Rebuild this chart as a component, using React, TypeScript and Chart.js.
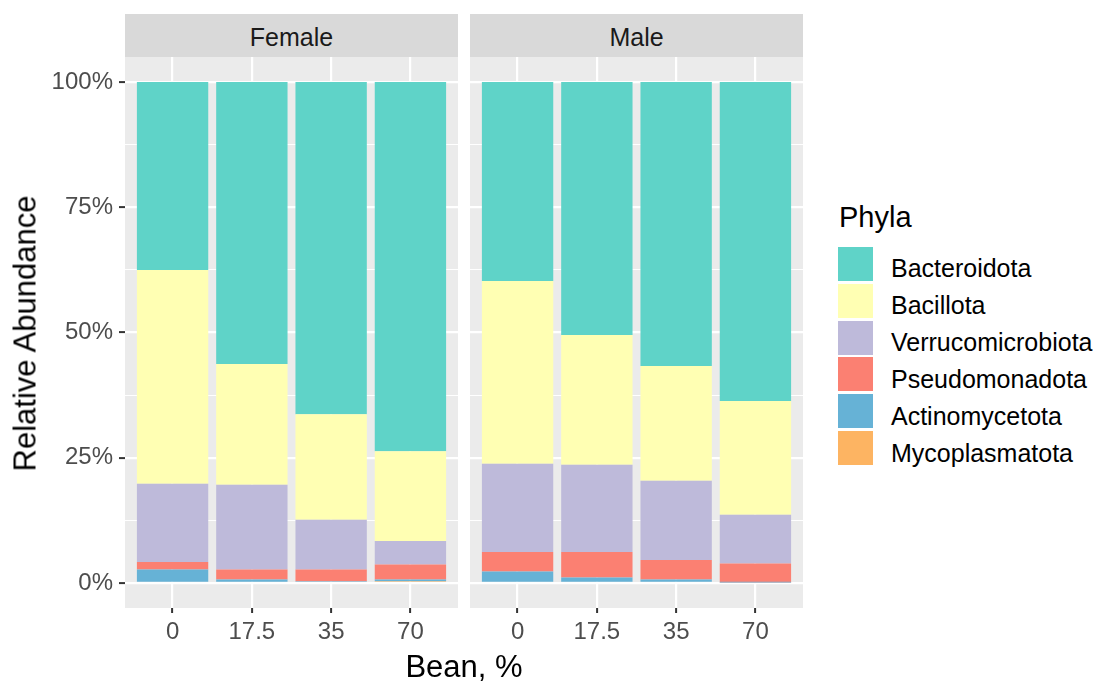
import React, { useEffect, useRef } from "react";
import { Chart, registerables } from "chart.js";

Chart.register(...registerables);

// ---------- data ----------
const beanLevels = ["0", "17.5", "35", "70"];
const facets = ["Female", "Male"];
const phyla = [
  "Mycoplasmatota",
  "Actinomycetota",
  "Pseudomonadota",
  "Verrucomicrobiota",
  "Bacillota",
  "Bacteroidota",
];
const phylaColors = ["#FDB462", "#66B2D6", "#FB8072", "#BEBADA", "#FFFFB3", "#5FD3C8"];
const yMajorTicks = [0, 25, 50, 75, 100];
const yMinorTicks = [12.5, 37.5, 62.5, 87.5];

// Female (% relative abundance) per bean level
const femaleMycoplasmatota = [0, 0, 0, 0.35];
const femaleActinomycetota = [2.7, 0.7, 0.35, 0.35];
const femalePseudomonadota = [1.5, 2.0, 2.35, 3.0];
const femaleVerrucomicrobiota = [15.6, 16.9, 9.9, 4.7];
const femaleBacillota = [42.7, 24.1, 21.1, 17.9];
const femaleBacteroidota = [37.5, 56.3, 66.3, 73.7];

// Male
const maleMycoplasmatota = [0, 0, 0, 0];
const maleActinomycetota = [2.3, 1.1, 0.7, 0.1];
const malePseudomonadota = [3.9, 5.1, 3.9, 3.8];
const maleVerrucomicrobiota = [17.6, 17.4, 15.8, 9.7];
const maleBacillota = [36.5, 25.9, 22.9, 22.7];
const maleBacteroidota = [39.7, 50.5, 56.7, 63.7];

const femaleSeries = [
  femaleMycoplasmatota,
  femaleActinomycetota,
  femalePseudomonadota,
  femaleVerrucomicrobiota,
  femaleBacillota,
  femaleBacteroidota,
];
const maleSeries = [
  maleMycoplasmatota,
  maleActinomycetota,
  malePseudomonadota,
  maleVerrucomicrobiota,
  maleBacillota,
  maleBacteroidota,
];

// ---------- styling ----------
const FONT = "'Liberation Sans', Arial, sans-serif";
const PANEL_TOP = 57;
const PANEL_BOTTOM = 608;
const FIG_H = 682;

const panelBg = {
  id: "panelBg",
  beforeDraw(chart: any) {
    const { ctx, chartArea: a } = chart;
    ctx.save();
    ctx.fillStyle = "#EBEBEB";
    ctx.fillRect(a.left, a.top, a.right - a.left, a.bottom - a.top);
    ctx.restore();
  },
};

function makeConfig(series: number[][], showY: boolean): any {
  const allY = [...yMajorTicks, ...yMinorTicks].sort((a, b) => a - b);
  return {
    type: "bar",
    data: {
      datasets: series.map((vals, k) => ({
        label: phyla[k],
        data: vals.map((v, i) => ({ x: i + 1, y: v })),
        backgroundColor: phylaColors[k],
        borderWidth: 0,
        barPercentage: 0.9,
        categoryPercentage: 1.0,
      })),
    },
    options: {
      animation: false,
      responsive: false,
      devicePixelRatio: 1,
      layout: { padding: { top: PANEL_TOP, left: 0, right: 0, bottom: 0 } },
      plugins: { legend: { display: false }, tooltip: { enabled: false } },
      events: [],
      scales: {
        x: {
          type: "linear",
          stacked: true,
          offset: false,
          min: 0.4,
          max: 4.6,
          afterBuildTicks: (s: any) => {
            s.ticks = beanLevels.map((_, i) => ({ value: i + 1 }));
          },
          afterFit: (s: any) => {
            s.height = FIG_H - PANEL_BOTTOM;
          },
          ticks: {
            callback: (v: number) => beanLevels[Math.round(v) - 1] ?? "",
            color: "#4D4D4D",
            font: { family: FONT, size: 24 },
            padding: 5,
            maxRotation: 0,
            autoSkip: false,
          },
          grid: {
            offset: false,
            color: "#FFFFFF",
            lineWidth: 2.2,
            tickColor: "#333333",
            tickLength: 5,
            tickWidth: 2,
          },
          border: { display: false },
        },
        y: {
          stacked: true,
          min: -5,
          max: 105,
          afterBuildTicks: (s: any) => {
            s.ticks = allY.map((v) => ({ value: v }));
          },
          afterFit: (s: any) => {
            s.width = showY ? 125 : 0;
          },
          ticks: {
            display: showY,
            callback: (v: number) => (yMajorTicks.includes(v) ? `${v}%` : ""),
            color: "#4D4D4D",
            font: { family: FONT, size: 24 },
            padding: 6,
          },
          grid: {
            color: "#FFFFFF",
            lineWidth: (c: any) => (c.tick && yMajorTicks.includes(c.tick.value) ? 2.2 : 1.1),
            drawTicks: showY,
            tickLength: 6,
            tickWidth: 2,
            tickColor: (c: any) =>
              c.tick && yMajorTicks.includes(c.tick.value) ? "#333333" : "rgba(0,0,0,0)",
          },
          border: { display: false },
        },
      },
    },
    plugins: [panelBg],
  };
}

function Panel(props: { series: number[][]; showY: boolean; left: number; width: number }) {
  const ref = useRef<HTMLCanvasElement | null>(null);
  useEffect(() => {
    if (!ref.current) return;
    const chart = new Chart(ref.current, makeConfig(props.series, props.showY));
    return () => chart.destroy();
  }, []);
  return (
    <canvas
      ref={ref}
      width={props.width}
      height={FIG_H}
      style={{ position: "absolute", left: props.left, top: 0, width: props.width, height: FIG_H }}
    />
  );
}

function Txt(props: {
  children: any;
  left: number;
  top: number;
  size: number;
  color?: string;
  width?: number;
  align?: "left" | "center";
}) {
  return (
    <div
      style={{
        position: "absolute",
        left: props.left,
        top: props.top,
        width: props.width,
        fontSize: props.size,
        lineHeight: `${props.size}px`,
        color: props.color ?? "#000000",
        textAlign: props.align ?? "left",
        whiteSpace: "nowrap",
        fontFamily: FONT,
      }}
    >
      {props.children}
    </div>
  );
}

export default function App() {
  const panels = [
    { left: 0, width: 458, plotLeft: 125, series: femaleSeries, showY: true },
    { left: 470, width: 333, plotLeft: 470, series: maleSeries, showY: false },
  ];
  const legendKeyTop0 = 246.7;
  const legendPitch = 36.9;
  const legendOrder = [...phyla.keys()].reverse();
  return (
    <div
      style={{
        position: "absolute",
        left: 0,
        top: 0,
        width: 1101,
        height: FIG_H,
        background: "#FFFFFF",
        overflow: "hidden",
        fontFamily: FONT,
      }}
    >
      {panels.map((p, i) => (
        <React.Fragment key={i}>
          <div
            style={{
              position: "absolute",
              left: p.plotLeft,
              top: 14,
              width: 333,
              height: PANEL_TOP - 14,
              background: "#D9D9D9",
            }}
          />
          <Txt left={p.plotLeft} top={25} width={333} size={25} color="#1A1A1A" align="center">
            {facets[i]}
          </Txt>
          <Panel series={p.series} showY={p.showY} left={p.left} width={p.width} />
        </React.Fragment>
      ))}

      {/* axis titles */}
      <Txt left={125} top={651} width={678} size={31} align="center">
        Bean, %
      </Txt>
      <div
        style={{
          position: "absolute",
          left: 25 - 200,
          top: 333 - 15.5,
          width: 400,
          height: 31,
          fontSize: 31,
          lineHeight: "31px",
          textAlign: "center",
          transform: "rotate(-90deg)",
          whiteSpace: "nowrap",
          fontFamily: FONT,
          color: "#000000",
        }}
      >
        Relative Abundance
      </div>

      {/* legend */}
      <Txt left={839} top={203} size={29}>
        Phyla
      </Txt>
      {legendOrder.map((k, j) => {
        const top = legendKeyTop0 + j * legendPitch;
        return (
          <React.Fragment key={k}>
            <div
              style={{
                position: "absolute",
                left: 838,
                top,
                width: 35,
                height: 34,
                background: phylaColors[k],
              }}
            />
            <Txt left={891} top={top + 9.3} size={25}>
              {phyla[k]}
            </Txt>
          </React.Fragment>
        );
      })}
    </div>
  );
}
